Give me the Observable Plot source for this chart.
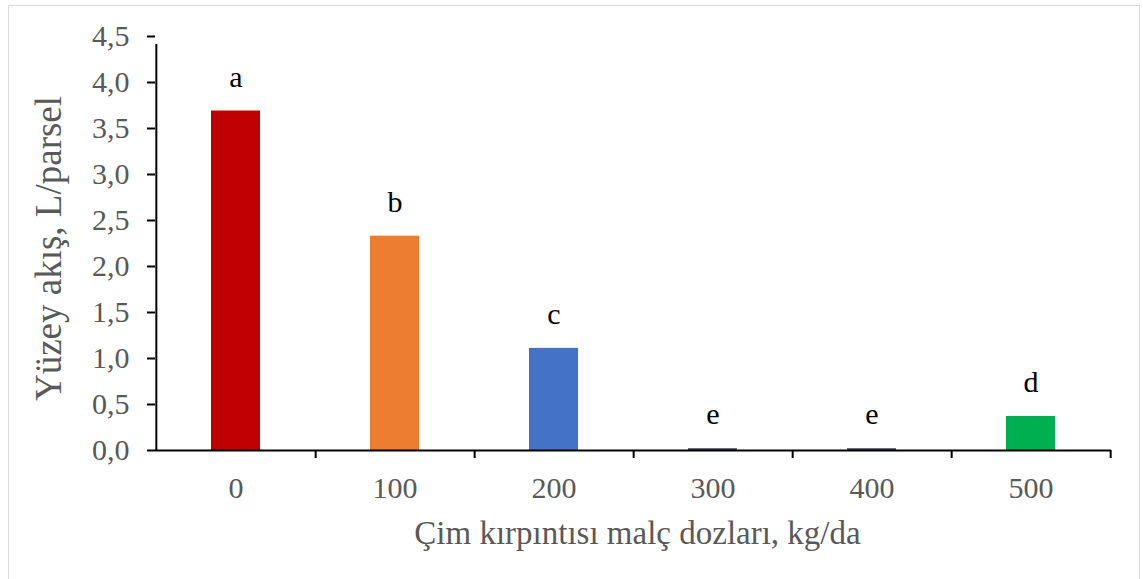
<!DOCTYPE html>
<html>
<head>
<meta charset="utf-8">
<script src="https://cdn.jsdelivr.net/npm/d3@7"></script>
<script src="https://cdn.jsdelivr.net/npm/@observablehq/plot@0.6"></script>
<style>
  html, body { margin: 0; padding: 0; background: #fff; }
  #wrap { position: relative; width: 1143px; height: 579px; overflow: hidden; }
  #border { position: absolute; left: 8px; top: 5px; width: 1132px; height: 600px; border: 1.5px solid #d9d9d9; box-sizing: border-box; }
  #chart { position: absolute; left: 0; top: 0; }
</style>
</head>
<body>
<div id="wrap"><div id="border"></div><div id="chart"></div></div>
<script>
const doses = ["0", "100", "200", "300", "400", "500"];
const runoff = [3.69, 2.33, 1.11, 0.02, 0.02, 0.37];
const letters = ["a", "b", "c", "e", "e", "d"];
const colors = ["#C00000", "#ED7D31", "#4472C4", "#44546A", "#44546A", "#00B050"];
const yTicks = [0, 0.5, 1, 1.5, 2, 2.5, 3, 3.5, 4, 4.5];
const yTitle = "Yüzey akış, L/parsel";
const xTitle = "Çim kırpıntısı malç dozları, kg/da";

const data = doses.map((d, i) => ({dose: d, value: runoff[i], letter: letters[i], color: colors[i]}));

const W = 1143, H = 579;
const mL = 155, mR = 32, mT = 36, mB = 129;
const step = (W - mL - mR) / doses.length;
const font = "'Liberation Serif', 'Times New Roman', serif";
const gray = "#595959";
const fmt = d => d.toFixed(1).replace(".", ",");

const chart = Plot.plot({
  width: W,
  height: H,
  marginLeft: mL,
  marginRight: mR,
  marginTop: mT,
  marginBottom: mB,
  style: {fontFamily: font, background: "transparent", overflow: "visible"},
  x: {domain: doses, paddingInner: 0.69, paddingOuter: 0.345, axis: null},
  y: {domain: [0, 4.5], axis: null},
  marks: [
    Plot.barY(data, {x: "dose", y: "value", fill: "color"}),
    // y axis
    Plot.axisY({ticks: yTicks, tickSize: 8, tickPadding: 18, tickFormat: fmt, fontSize: 30, fill: gray, stroke: "black", strokeWidth: 2, label: null}),
    Plot.ruleX([doses[0]], {x: d => d, dx: -step / 2, y1: 0, y2: 4.5, stroke: "black", strokeWidth: 2, insetBottom: -8}),
    // x axis
    Plot.ruleY([0], {stroke: "black", strokeWidth: 2}),
    Plot.ruleX(doses, {x: d => d, dx: step / 2, y1: 0, y2: 0, insetBottom: -8, stroke: "black", strokeWidth: 2}),
    Plot.axisX({tickSize: 0, tickPadding: 26, fontSize: 30, fill: gray, label: null}),
    // letters
    Plot.text(data, {x: "dose", y: "value", text: "letter", dy: -34, fontSize: 30, fill: "black"}),
    // titles
    Plot.text([yTitle], {frameAnchor: "left", textAnchor: "middle", rotate: -90, dx: -106, dy: 5, fontSize: 37, fill: gray}),
    Plot.text([xTitle], {frameAnchor: "bottom", dx: 4, dy: 93, fontSize: 33, fill: gray})
  ]
});
document.getElementById("chart").appendChild(chart);
</script>
</body>
</html>
